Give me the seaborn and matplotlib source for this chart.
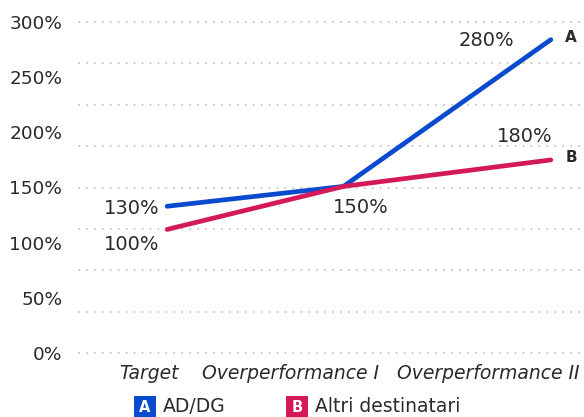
import numpy as np
import pandas as pd
import seaborn as sns
import matplotlib.pyplot as plt
from matplotlib.patches import Rectangle
from matplotlib.transforms import ScaledTranslation

categories = ["Target", "Overperformance I", "Overperformance II"]
a_values = [133, 151, 284]
b_values = [112, 151, 175]
a_labels = ["130%", "150%", "280%"]
b_labels = ["100%", "", "180%"]
series_names = ["AD/DG", "Altri destinatari"]
series_keys = ["A", "B"]
y_ticks = [0, 50, 100, 150, 200, 250, 300]

BLUE = "#0a4acf"
RED = "#d4195b"
TXT = "#2a2a2a"
FW = "normal"

sns.set_theme(style="white")
plt.rcParams['font.family'] = ['DejaVu Sans']

W, H = 584, 417
fig = plt.figure(figsize=(W / 100, H / 100), dpi=100)
ax = fig.add_axes([79 / W, (H - 353) / H, 1 - 79 / W, 331 / H])

df = pd.DataFrame({
    "x": list(range(len(categories))) * 2,
    "value": a_values + b_values,
    "series": [series_names[0]] * 3 + [series_names[1]] * 3,
})

# second interval of the x axis is drawn slightly wider than the first
K = 207 / 176
def fwd(x):
    x = np.asarray(x, dtype=float)
    return np.where(x <= 1, x, 1 + (x - 1) * K)
def inv(x):
    x = np.asarray(x, dtype=float)
    return np.where(x <= 1, x, 1 + (x - 1) / K)
ax.set_xscale("function", functions=(fwd, inv))

sns.lineplot(data=df, x="x", y="value", hue="series",
             palette={series_names[0]: BLUE, series_names[1]: RED},
             lw=3.4, legend=False, ax=ax)
for ln in ax.lines:
    ln.set_clip_on(False)
    ln.set_solid_capstyle("round")
    ln.set_zorder(3)

ax.set_xlim(-0.5, 2.16)
ax.set_ylim(0, 300)
ax.set_xlabel("")
ax.set_ylabel("")

ax.set_yticks(y_ticks)
ax.set_yticklabels([f"{v}%" for v in y_ticks], fontsize=13.3, color=TXT, fontweight=FW)
ax.grid(False)
for gy in np.linspace(0, 300, 9):
    ax.axhline(gy, color="#c4c4c4", linestyle=(0, (0.01, 3.8)), lw=1.5,
               dash_capstyle="round", clip_on=False, zorder=1)
ax.tick_params(axis="both", which="both", length=0)
ax.tick_params(axis="y", pad=12)
ax.tick_params(axis="x", pad=8)
for s in ax.spines.values():
    s.set_visible(False)

ax.set_xticks(range(len(categories)))
ax.set_xticks([], minor=True)
ax.set_xticklabels(categories, fontsize=13.5, style="italic", color=TXT, fontweight=FW)
shifts = [-18, -53, -63]
for lab, dx in zip(ax.get_xticklabels(), shifts):
    lab.set_transform(lab.get_transform() + ScaledTranslation(dx / 100, 0, fig.dpi_scale_trans))

# value annotations
def ann(txt, x, y, dx, dy, ha, bold=False, size=14):
    ax.annotate(txt, (x, y), xytext=(dx, dy), textcoords="offset pixels",
                ha=ha, va="center", fontsize=size, color=TXT,
                fontweight="bold" if bold else FW, annotation_clip=False)

ann(a_labels[0], 0, a_values[0], -8, -2, "right")
ann(b_labels[0], 0, b_values[0], -8, -15, "right")
ann(a_labels[1], 1, a_values[1], 17, -21, "center")
ann(a_labels[2], 2, a_values[2], -37, -1, "right")
ann(b_labels[2], 2, b_values[2], 2, 23, "right")
ann(series_keys[0], 2, a_values[2], 14, 2, "left", bold=True, size=11)
ann(series_keys[1], 2, b_values[2], 15, 2, "left", bold=True, size=11)

# legend
def fp(x, y):
    return x / W, 1 - y / H

for x0, col, key, name in [(134, BLUE, series_keys[0], series_names[0]),
                           (286, RED, series_keys[1], series_names[1])]:
    fx, fy = fp(x0, 418)
    fig.patches.append(Rectangle((fx, fy), 22 / W, 22 / H, transform=fig.transFigure,
                                 facecolor=col, edgecolor="none"))
    cx, cy = fp(x0 + 11, 407)
    fig.text(cx, cy, key, color="white", fontsize=10.5, fontweight="bold",
             ha="center", va="center")
    tx, ty = fp(x0 + 29, 407)
    fig.text(tx, ty, name, color=TXT, fontsize=13.5, ha="left", va="center", fontweight=FW)

fig.savefig("out.png", dpi=100)
